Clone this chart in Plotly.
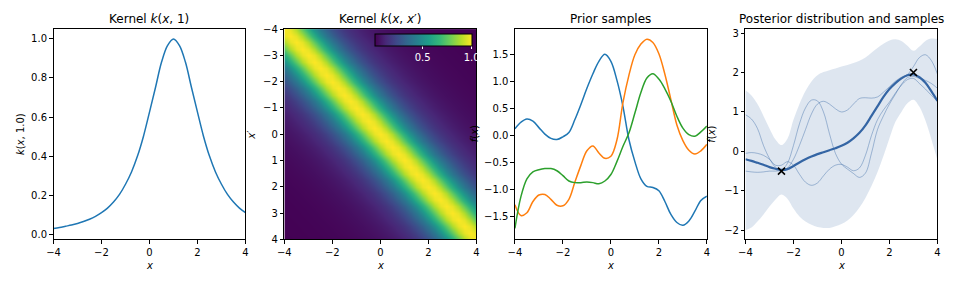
import numpy as np
import plotly.graph_objects as go

# ---------------- data ----------------
# kernel value as a function of distance d = |x - x'|
kernel_distance = [0.0, 0.25, 0.5, 0.75, 1.0, 1.25, 1.5, 1.75, 2.0, 2.25, 2.5, 2.75, 3.0,
                   3.25, 3.5, 3.75, 4.0, 4.25, 4.5, 4.75, 5.0, 5.25, 5.5, 5.75, 6.0,
                   6.25, 6.5, 6.75, 7.0, 7.25, 7.5, 7.75, 8.0]
kernel_value = [1.0, 0.966, 0.88, 0.751, 0.625, 0.502, 0.40, 0.319, 0.256, 0.204, 0.165,
                0.134, 0.111, 0.092, 0.077, 0.065, 0.055, 0.047, 0.041, 0.035, 0.030,
                0.026, 0.023, 0.020, 0.018, 0.016, 0.014, 0.013, 0.012, 0.011, 0.010,
                0.009, 0.008]
kernel_ref_point = 1.0

grid_x = [-4.0, -3.75, -3.5, -3.25, -3.0, -2.75, -2.5, -2.25, -2.0, -1.75, -1.5, -1.25,
          -1.0, -0.75, -0.5, -0.25, 0.0, 0.25, 0.5, 0.75, 1.0, 1.25, 1.5, 1.75, 2.0,
          2.25, 2.5, 2.75, 3.0, 3.25, 3.5, 3.75, 4.0]

prior_blue = [0.13, 0.25, 0.31, 0.27, 0.15, 0.03, -0.05, -0.07, -0.02, 0.06, 0.30, 0.58,
              0.88, 1.15, 1.38, 1.51, 1.38, 1.03, 0.55, -0.07, -0.48, -0.80, -0.94, -0.96,
              -1.02, -1.22, -1.46, -1.61, -1.66, -1.58, -1.40, -1.20, -1.12]
prior_orange = [-1.28, -1.48, -1.43, -1.22, -1.10, -1.09, -1.18, -1.29, -1.30, -1.18, -0.86,
                -0.55, -0.28, -0.19, -0.32, -0.42, -0.38, -0.08, 0.61, 1.12, 1.50, 1.70,
                1.79, 1.73, 1.52, 1.14, 0.67, 0.20, -0.09, -0.27, -0.34, -0.28, -0.16]
prior_green = [-1.72, -1.13, -0.80, -0.67, -0.63, -0.61, -0.61, -0.65, -0.74, -0.84, -0.87,
               -0.87, -0.86, -0.87, -0.89, -0.84, -0.72, -0.48, -0.20, 0.05, 0.42, 0.80,
               1.07, 1.15, 1.05, 0.87, 0.64, 0.36, 0.14, 0.02, -0.01, 0.07, 0.18]

post_mean = [-0.20, -0.24, -0.29, -0.34, -0.40, -0.44, -0.47, -0.45, -0.37, -0.28, -0.20,
             -0.13, -0.07, -0.02, 0.03, 0.08, 0.14, 0.22, 0.33, 0.47, 0.66, 0.90, 1.14,
             1.38, 1.58, 1.73, 1.85, 1.93, 1.95, 1.88, 1.74, 1.52, 1.28]
post_upper = [1.55, 1.42, 1.20, 0.90, 0.58, 0.30, 0.16, 0.32, 0.80, 1.20, 1.53, 1.77, 1.93,
              2.01, 2.06, 2.10, 2.15, 2.19, 2.24, 2.30, 2.38, 2.50, 2.62, 2.73, 2.81, 2.84,
              2.80, 2.68, 2.55, 2.66, 2.80, 2.86, 2.85]
post_lower = [-2.00, -1.93, -1.78, -1.60, -1.40, -1.22, -1.09, -1.20, -1.45, -1.65, -1.78,
              -1.86, -1.92, -1.94, -1.94, -1.90, -1.84, -1.75, -1.61, -1.42, -1.18, -0.88,
              -0.53, -0.12, 0.33, 0.75, 1.00, 1.22, 1.31, 1.13, 0.78, 0.30, -0.22]
post_sample_a = [0.93, 0.82, 0.58, 0.15, -0.18, -0.40, -0.47, -0.30, 0.15, 0.70, 1.10, 1.30,
                 1.28, 1.00, 0.45, -0.05, -0.32, -0.45, -0.56, -0.66, -0.55, -0.05, 0.55,
                 0.90, 1.20, 1.45, 1.70, 1.87, 1.90, 1.85, 1.80, 1.72, 1.60]
post_sample_b = [-0.50, -0.52, -0.53, -0.52, -0.50, -0.50, -0.48, -0.42, -0.20, 0.15, 0.55,
                 0.95, 1.20, 1.27, 1.20, 1.08, 1.00, 1.05, 1.20, 1.34, 1.36, 1.35, 1.38,
                 1.50, 1.64, 1.78, 1.88, 1.95, 2.15, 2.38, 2.45, 2.30, 1.96]
post_sample_c = [-0.05, -0.03, -0.05, -0.10, -0.20, -0.35, -0.35, -0.26, -0.35, -0.58, -0.78,
                 -0.86, -0.80, -0.62, -0.45, -0.35, -0.33, -0.40, -0.49, -0.42, -0.10, 0.40,
                 0.80, 1.05, 1.25, 1.48, 1.68, 1.82, 1.85, 1.72, 1.58, 1.42, 1.27]
obs_x = [-2.5, 3.0]
obs_y = [-0.5, 2.0]

titles = ["Kernel <i>k</i>(<i>x</i>, 1)", "Kernel <i>k</i>(<i>x</i>, <i>x</i>′)",
          "Prior samples", "Posterior distribution and samples"]
ylabels = ["<i>k</i>(<i>x</i>, 1.0)", "<i>x</i>′", "<i>f</i>(<i>x</i>)", "<i>f</i>(<i>x</i>)"]

# ---------------- figure ----------------
W, H = 953, 281
FONT = "DejaVu Sans"
px_left = [47, 280.3, 513.3, 746.3]
ax_w = 194
top_px, bot_px = 25, 243
ylab_px = [13, 247, 472, 712]

fig = go.Figure()

# panel 1: kernel k(x, 1)
k1_x = [kernel_ref_point - d for d in kernel_distance if d <= 5.0][::-1] + \
       [kernel_ref_point + d for d in kernel_distance if 0 < d <= 3.0]
k1_y = [v for d, v in zip(kernel_distance, kernel_value) if d <= 5.0][::-1] + \
       [v for d, v in zip(kernel_distance, kernel_value) if 0 < d <= 3.0]
fig.add_trace(go.Scatter(x=k1_x, y=k1_y, mode="lines", line=dict(color="#1f77b4", width=1.5, shape="spline"),
                         xaxis="x", yaxis="y", showlegend=False))

# panel 2: kernel matrix
n = len(grid_x)
z = [[kernel_value[abs(i - j)] for j in range(n)] for i in range(n)]
fig.add_trace(go.Heatmap(x=grid_x, y=grid_x, z=z, colorscale="Viridis", zsmooth="best",
                         zmin=min(kernel_value), zmax=max(kernel_value),
                         xaxis="x2", yaxis="y2",
                         colorbar=dict(orientation="h", lenmode="pixels", len=97,
                                       thicknessmode="pixels", thickness=12,
                                       x=(372 + 469) / 2 / W, xanchor="center",
                                       y=(H - 30) / H, yanchor="top",
                                       xpad=0, ypad=0, outlinewidth=1, outlinecolor="black",
                                       tickvals=[0.5, 1.0], ticktext=["0.5", "1.0"],
                                       ticks="outside", ticklen=3, tickcolor="white",
                                       tickfont=dict(family=FONT, size=10, color="white"))))

# panel 3: prior samples
for ys, c in [(prior_blue, "#1f77b4"), (prior_orange, "#ff7f0e"), (prior_green, "#2ca02c")]:
    fig.add_trace(go.Scatter(x=grid_x, y=ys, mode="lines", line=dict(color=c, width=1.5, shape="spline"),
                             xaxis="x3", yaxis="y3", showlegend=False))

# panel 4: posterior
band = "rgba(52,101,164,0.16)"
fig.add_trace(go.Scatter(x=grid_x, y=post_upper, mode="lines", line=dict(width=0, shape="spline"),
                         xaxis="x4", yaxis="y4", showlegend=False))
fig.add_trace(go.Scatter(x=grid_x, y=post_lower, mode="lines", line=dict(width=0, shape="spline"),
                         fill="tonexty", fillcolor=band, xaxis="x4", yaxis="y4", showlegend=False))
for ys in [post_sample_a, post_sample_b, post_sample_c]:
    fig.add_trace(go.Scatter(x=grid_x, y=ys, mode="lines",
                             line=dict(color="rgba(52,101,164,0.45)", width=0.9, shape="spline"),
                             xaxis="x4", yaxis="y4", showlegend=False))
fig.add_trace(go.Scatter(x=grid_x, y=post_mean, mode="lines",
                         line=dict(color="#3465a4", width=2.2, shape="spline"),
                         xaxis="x4", yaxis="y4", showlegend=False))
fig.add_trace(go.Scatter(x=obs_x, y=obs_y, mode="markers",
                         marker=dict(symbol="x-thin", size=7, color="black", line=dict(width=1.6, color="black")),
                         xaxis="x4", yaxis="y4", showlegend=False))

ydom = [(H - bot_px) / H, (H - top_px) / H]
yranges = [[-0.026, 1.05], [4, -4], [-1.922, 1.977], [-2.23, 3.10]]
ytickvals = [[0, 0.2, 0.4, 0.6, 0.8, 1.0], [-4, -3, -2, -1, 0, 1, 2, 3, 4],
             [-1.5, -1.0, -0.5, 0, 0.5, 1.0, 1.5], [-2, -1, 0, 1, 2, 3]]
ytickfmt = [".1f", "d", ".1f", "d"]

common = dict(showline=True, mirror=True, linecolor="black", linewidth=1, ticks="outside",
              ticklen=3.5, tickwidth=1, tickcolor="black", showgrid=False, zeroline=False,
              tickfont=dict(family=FONT, size=10, color="black"))
lay = {}
for k in range(4):
    sfx = "" if k == 0 else str(k + 1)
    lay["xaxis" + sfx] = dict(domain=[px_left[k] / W, (px_left[k] + ax_w) / W], range=[-4, 4],
                              tickvals=[-4, -2, 0, 2, 4], anchor="y" + sfx, **common)
    lay["yaxis" + sfx] = dict(domain=ydom, range=yranges[k], tickvals=ytickvals[k],
                              tickformat=ytickfmt[k], anchor="x" + sfx, **common)

annotations = []
for k in range(4):
    cx = (px_left[k] + ax_w / 2) / W
    annotations.append(dict(text=titles[k], x=cx, y=(H - 14.5) / H, xref="paper", yref="paper",
                            showarrow=False, xanchor="center", yanchor="middle",
                            font=dict(family=FONT, size=12, color="black")))
    annotations.append(dict(text="<i>x</i>", x=cx, y=(H - 270) / H, xref="paper", yref="paper",
                            showarrow=False, xanchor="center", yanchor="middle",
                            font=dict(family=FONT, size=10, color="black")))
    annotations.append(dict(text=ylabels[k], x=ylab_px[k] / W, y=(H - 134) / H, xref="paper", yref="paper",
                            showarrow=False, xanchor="center", yanchor="middle", textangle=-90,
                            font=dict(family=FONT, size=10, color="black")))

fig.update_layout(width=W, height=H, margin=dict(l=0, r=0, t=0, b=0), paper_bgcolor="white",
                  plot_bgcolor="white", annotations=annotations, showlegend=False, **lay)
fig.write_html("out.html")
